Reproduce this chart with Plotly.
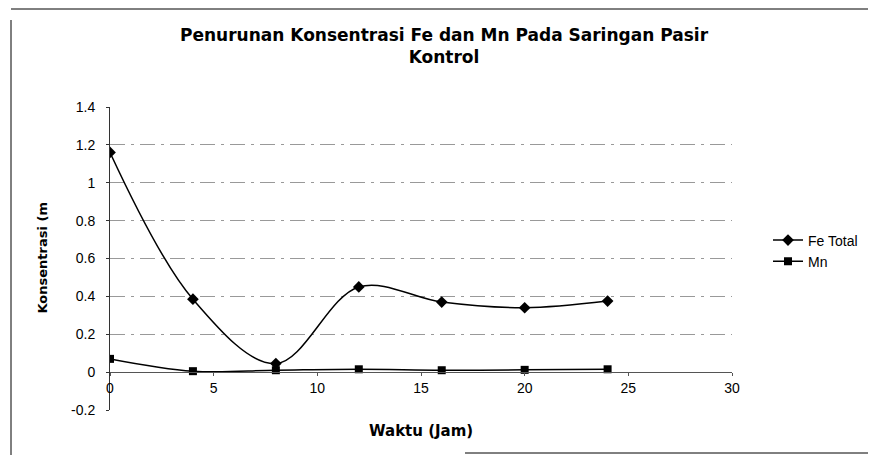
import plotly.graph_objects as go

# Data
waktu = [0, 4, 8, 12, 16, 20, 24]
fe_total = [1.16, 0.385, 0.045, 0.45, 0.37, 0.34, 0.375]
mn = [0.07, 0.005, 0.01, 0.015, 0.01, 0.012, 0.015]
series_names = ["Fe Total", "Mn"]
x_ticks = [0, 5, 10, 15, 20, 25, 30]
y_ticks = [-0.2, 0, 0.2, 0.4, 0.6, 0.8, 1, 1.2, 1.4]
y_tick_text = ["-0.2", "0", "0.2", "0.4", "0.6", "0.8", "1", "1.2", "1.4"]
grid_vals = [0.2, 0.4, 0.6, 0.8, 1, 1.2]

title_text = "Penurunan Konsentrasi Fe dan Mn Pada Saringan Pasir<br>Kontrol"
x_title = "Waktu (Jam)"
y_title = "Konsentrasi (m"

fig = go.Figure()
fig.add_trace(go.Scatter(
    x=waktu, y=fe_total, name=series_names[0], mode="lines+markers",
    line=dict(color="black", width=1.5, shape="spline", smoothing=1),
    marker=dict(symbol="diamond", size=9, color="black"),
))
fig.add_trace(go.Scatter(
    x=waktu, y=mn, name=series_names[1], mode="lines+markers",
    line=dict(color="black", width=1.5, shape="spline", smoothing=1),
    marker=dict(symbol="square", size=8, color="black"),
))

OFF = 8  # default page body margin
W, H = 876 - OFF, 455 - OFF
L, R, T, B = 102, 144, 99, 45
pw, ph = W - L - R, H - T - B


def px(xs):
    return (xs - OFF - L) / pw


def py(ys):
    return (H - B - (ys - OFF)) / ph


fig.update_layout(
    width=W, height=H,
    margin=dict(l=L, r=R, t=T, b=B, pad=0),
    paper_bgcolor="white", plot_bgcolor="white",
    font=dict(family="Liberation Sans, Arial", size=14, color="black"),
    title=dict(text=title_text, x=(444 - OFF) / W, xref="container", xanchor="center",
               y=(H - 33) / H, yref="container", yanchor="top",
               font=dict(family="DejaVu Sans", size=17, color="black", weight="bold")),
    xaxis=dict(range=[0, 30], tickvals=x_ticks, ticktext=[str(v) for v in x_ticks],
               showgrid=False, zeroline=False, showline=True, linecolor="#555",
               linewidth=1, ticks="outside", ticklen=3, tickcolor="#555",
               anchor="free", position=0.125,
               tickfont=dict(family="Liberation Sans, Arial", size=14)),
    yaxis=dict(range=[-0.2, 1.4], tickvals=y_ticks, ticktext=y_tick_text,
               showgrid=False, zeroline=False, showline=True, linecolor="#333",
               linewidth=1, ticks="outside", ticklen=3, tickcolor="#333",
               ticklabelstandoff=8,
               tickfont=dict(family="Liberation Sans, Arial", size=14)),
    yaxis2=dict(range=[-0.2, 1.4], tickvals=grid_vals, overlaying="y",
                showticklabels=False, showgrid=True, gridcolor="#999999",
                gridwidth=1, griddash="longdashdot", zeroline=False, showline=False),
    showlegend=True,
    legend=dict(x=px(768), y=py(251), xanchor="left", yanchor="middle",
                bgcolor="rgba(0,0,0,0)", font=dict(family="Liberation Sans, Arial", size=14),
                tracegroupgap=4),
    annotations=[
        dict(text=x_title, xref="paper", yref="paper", x=0.5, y=py(431),
             xanchor="center", yanchor="middle", showarrow=False,
             font=dict(family="DejaVu Sans", size=15, color="black", weight="bold")),
        dict(text=y_title, xref="paper", yref="paper", x=px(42), y=0.5,
             xanchor="center", yanchor="middle", showarrow=False, textangle=-90,
             font=dict(family="DejaVu Sans", size=13, color="black", weight="bold")),
    ],
    shapes=[
        dict(type="line", xref="paper", yref="paper", x0=px(11), x1=px(11),
             y0=py(20), y1=py(455), line=dict(color="black", width=1)),
        dict(type="line", xref="paper", yref="paper", x0=px(11), x1=px(876),
             y0=py(9), y1=py(9), line=dict(color="black", width=1)),
        dict(type="line", xref="paper", yref="paper", x0=px(465), x1=px(876),
             y0=py(453), y1=py(453), line=dict(color="black", width=1)),
    ],
)

# invisible trace to activate the gridline axis
fig.add_trace(go.Scatter(x=[None], y=[None], yaxis="y2", showlegend=False, hoverinfo="skip"))

fig.write_html("out.html")
